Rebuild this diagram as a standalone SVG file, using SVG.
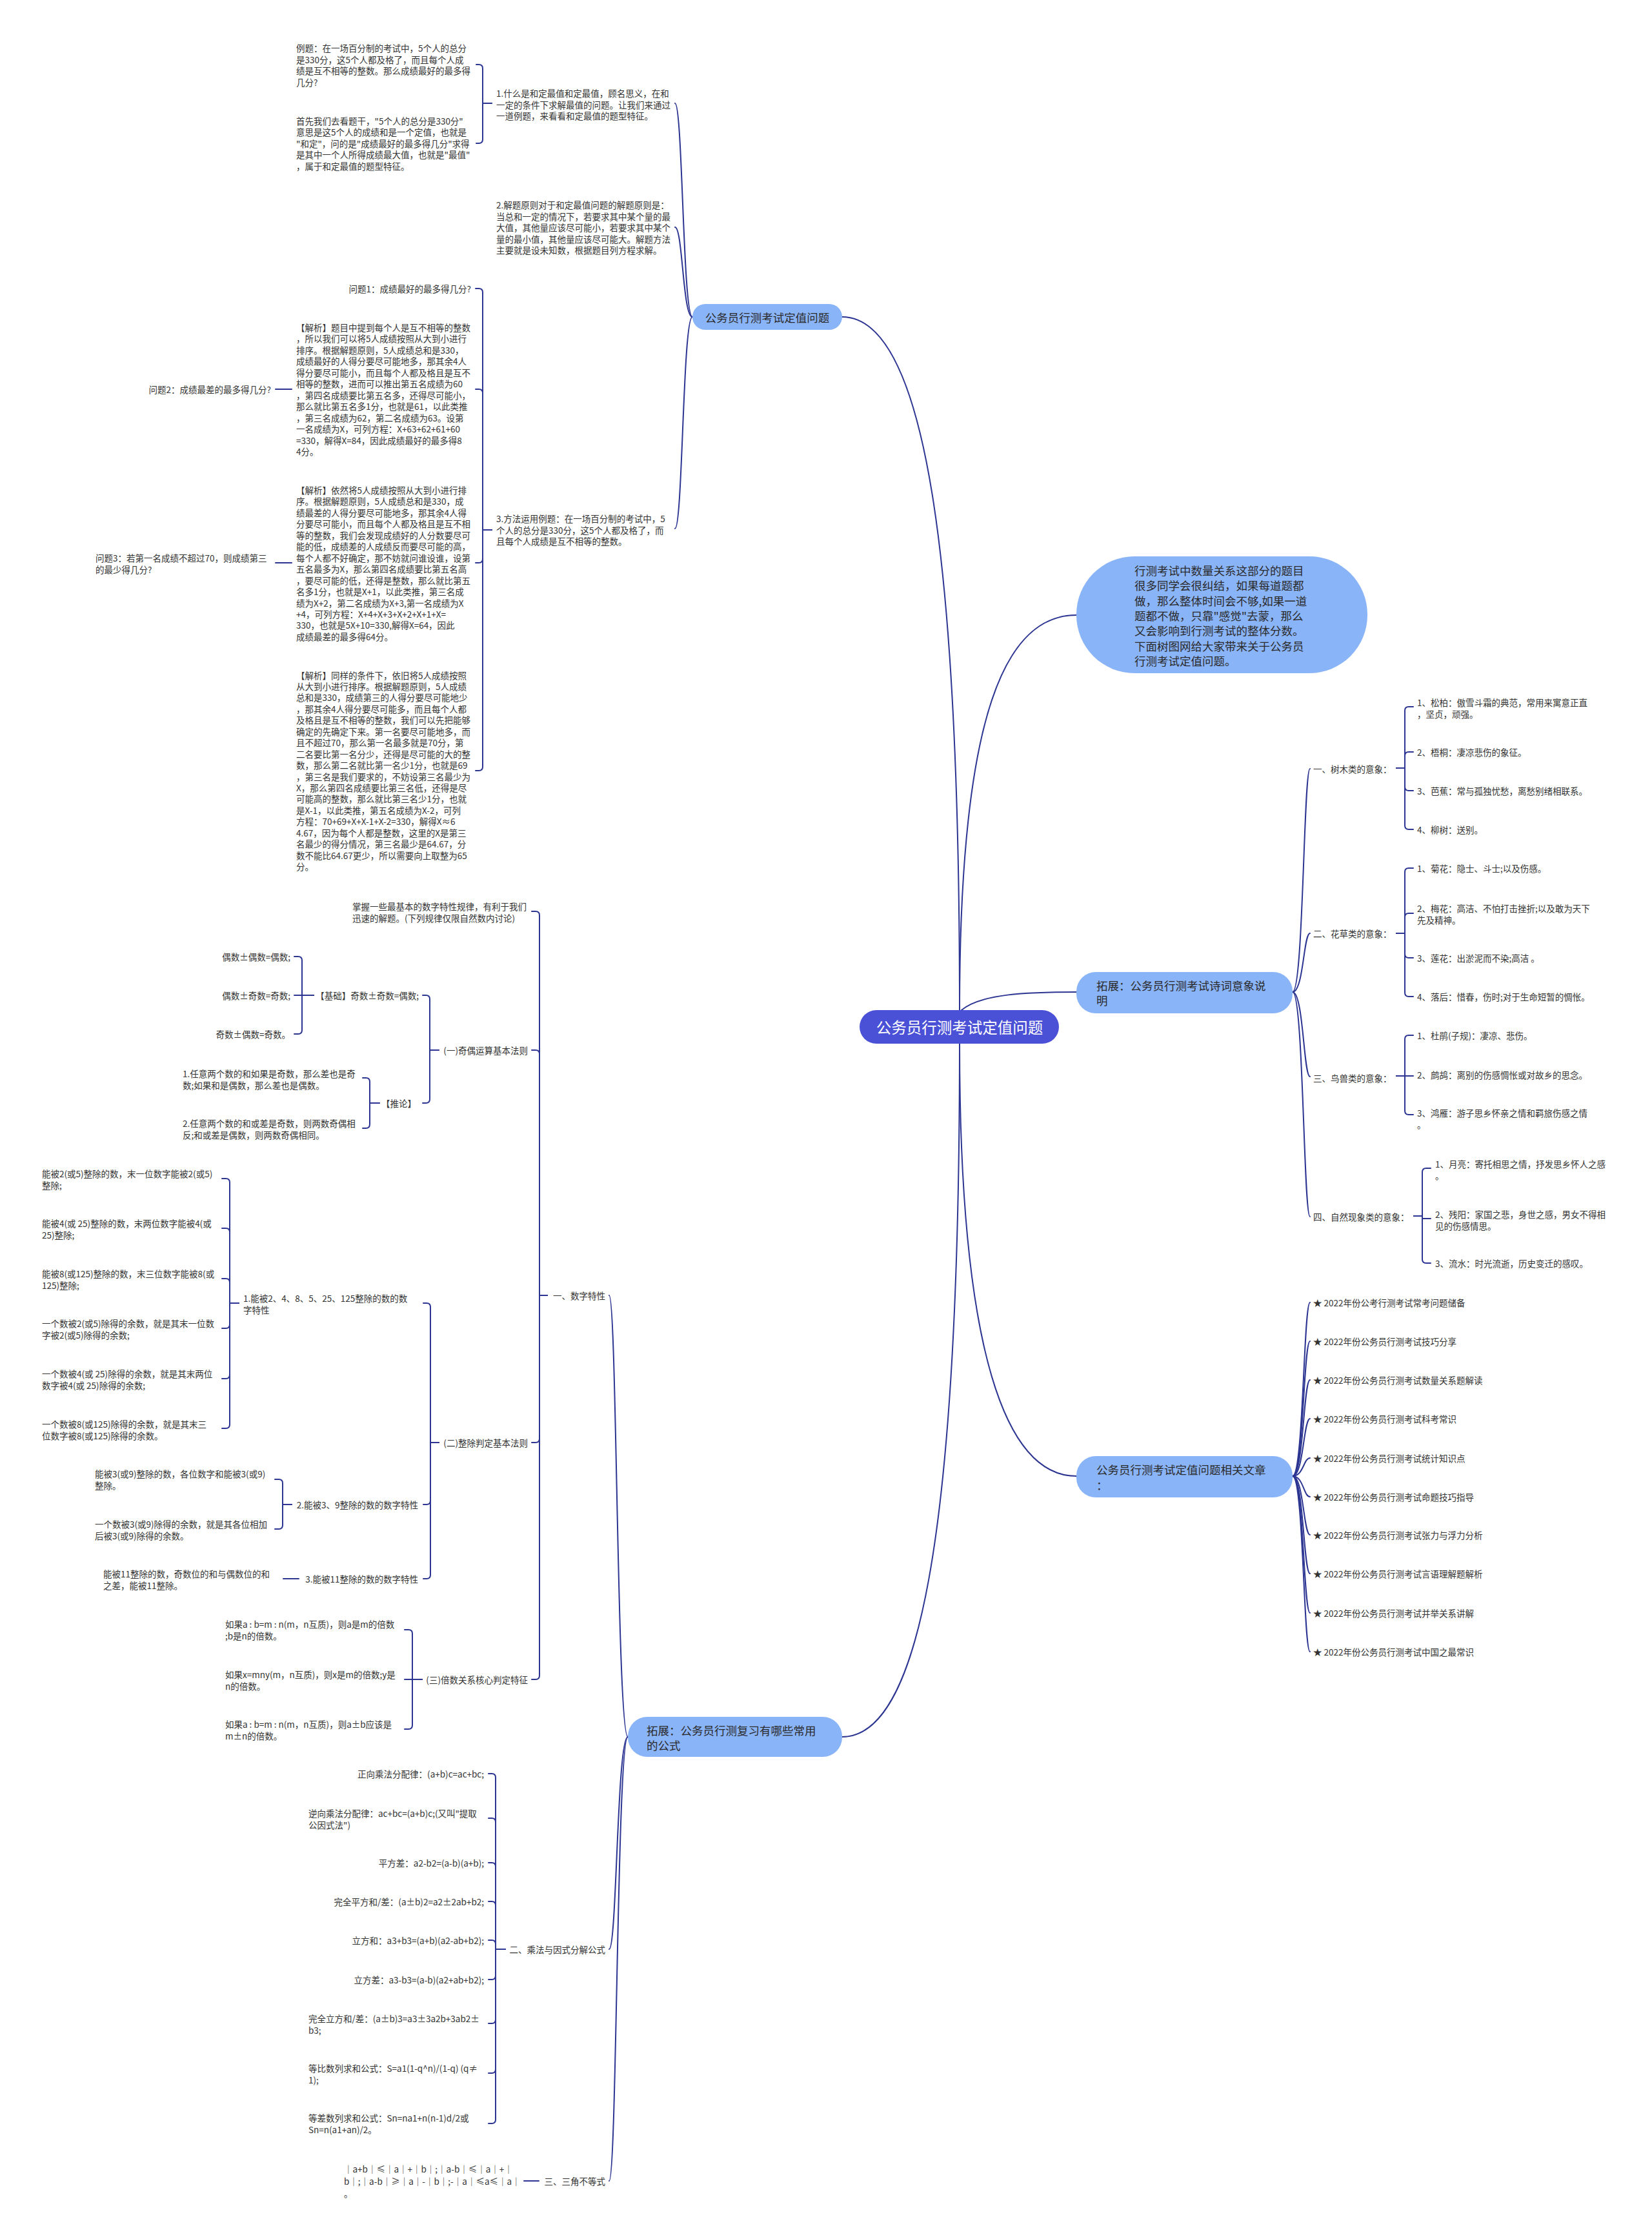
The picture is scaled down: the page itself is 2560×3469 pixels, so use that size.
<svg xmlns="http://www.w3.org/2000/svg" width="2560" height="3469" viewBox="0 0 2560 3469">
<style>
text,tspan{font-family:"Noto Sans CJK SC","Noto Sans",sans-serif;dominant-baseline:central}
text{font-size:13.5px;fill:#333}
.e{text-anchor:end}
.m{font-size:17.5px;fill:#2a2a2a}
.ctr{font-size:23.5px;fill:#fff;text-anchor:middle}
.nb{fill:#8ab4f8}
.k{fill:none;stroke:#2c3592;stroke-width:2;stroke-linecap:round;stroke-linejoin:round}
</style>
<rect width="2560" height="3469" fill="#fff"/>
<g id="connectors" class="k">
<path d="M1487 1565 C1487 900 1440 491 1305 491"/>
<path d="M1487 1565 C1487 1100 1560 953 1668 953"/>
<path d="M1490 1565 C1520 1540 1590 1537 1668 1537"/>
<path d="M1487 1617 C1487 2100 1560 2287 1668 2287"/>
<path d="M1487 1617 C1487 2400 1420 2691 1305 2691"/>
<path d="M1073 491 C1058 491 1058 160 1046 160"/>
<path d="M1073 491 C1058 491 1058 352 1046 352"/>
<path d="M1073 491 C1058 491 1058 819 1046 819"/>
<path d="M762 160 H748 V106 Q748 100 742 100 H738"/>
<path d="M762 160 H748 V216 Q748 222 742 222 H738"/>
<path d="M762 821 H748 V453 Q748 447 742 447 H737"/>
<path d="M762 821 H748 V609 Q748 603 742 603 H737"/>
<path d="M762 821 H748 V866 Q748 872 742 872 H737"/>
<path d="M762 821 H748 V1188 Q748 1194 742 1194 H737"/>
<path d="M452 603 H427"/>
<path d="M452 872 H427"/>
<path d="M973 2691 C956 2691 956 2007 944 2007"/>
<path d="M973 2691 C956 2691 956 3020 944 3020"/>
<path d="M973 2691 C956 2691 956 3379 944 3379"/>
<path d="M848 2007 H836 V1418 Q836 1412 830 1412 H824"/>
<path d="M848 2007 H836 V1633 Q836 1627 830 1627 H824"/>
<path d="M848 2007 H836 V2229 Q836 2235 830 2235 H824"/>
<path d="M848 2007 H836 V2596 Q836 2602 830 2602 H824"/>
<path d="M680 1627 H666 V1548 Q666 1542 660 1542 H655"/>
<path d="M680 1627 H666 V1703 Q666 1709 660 1709 H655"/>
<path d="M486 1542 H468 V1488 Q468 1482 462 1482 H456"/>
<path d="M486 1542 H456"/>
<path d="M486 1542 H468 V1596 Q468 1602 462 1602 H456"/>
<path d="M588 1709 H573 V1676 Q573 1670 567 1670 H562"/>
<path d="M588 1709 H573 V1742 Q573 1748 567 1748 H562"/>
<path d="M680 2235 H667 V2025 Q667 2019 661 2019 H656"/>
<path d="M680 2235 H667 V2325 Q667 2331 661 2331 H656"/>
<path d="M680 2235 H667 V2440 Q667 2446 661 2446 H656"/>
<path d="M370 2019 H356 V1832 Q356 1826 350 1826 H344"/>
<path d="M370 2019 H356 V1909 Q356 1903 350 1903 H344"/>
<path d="M370 2019 H356 V1987 Q356 1981 350 1981 H344"/>
<path d="M370 2019 H356 V2052 Q356 2058 350 2058 H344"/>
<path d="M370 2019 H356 V2130 Q356 2136 350 2136 H344"/>
<path d="M370 2019 H356 V2207 Q356 2213 350 2213 H344"/>
<path d="M452 2331 H438 V2298 Q438 2292 432 2292 H426"/>
<path d="M452 2331 H438 V2363 Q438 2369 432 2369 H426"/>
<path d="M463 2446 H439"/>
<path d="M654 2602 H639 V2531 Q639 2525 633 2525 H627"/>
<path d="M654 2602 H627"/>
<path d="M654 2602 H639 V2673 Q639 2679 633 2679 H627"/>
<path d="M783 3020 H768 V2754 Q768 2748 762 2748 H757"/>
<path d="M783 3020 H768 V2823 Q768 2817 762 2817 H757"/>
<path d="M783 3020 H768 V2892 Q768 2886 762 2886 H757"/>
<path d="M783 3020 H768 V2952 Q768 2946 762 2946 H757"/>
<path d="M783 3020 H768 V3012 Q768 3006 762 3006 H757"/>
<path d="M783 3020 H768 V3061 Q768 3067 762 3067 H757"/>
<path d="M783 3020 H768 V3129 Q768 3135 762 3135 H757"/>
<path d="M783 3020 H768 V3206 Q768 3212 762 3212 H757"/>
<path d="M783 3020 H768 V3284 Q768 3290 762 3290 H757"/>
<path d="M835 3379 H812"/>
<path d="M2003 1537 C2020 1537 2020 1191 2030 1191"/>
<path d="M2003 1537 C2020 1537 2020 1446 2030 1446"/>
<path d="M2003 1537 C2020 1537 2020 1668 2030 1668"/>
<path d="M2003 1537 C2020 1537 2020 1885 2030 1885"/>
<path d="M2164 1190 H2177 V1101 Q2177 1095 2183 1095 H2190"/>
<path d="M2164 1190 H2177 V1171 Q2177 1165 2183 1165 H2190"/>
<path d="M2164 1190 H2177 V1219 Q2177 1225 2183 1225 H2190"/>
<path d="M2164 1190 H2177 V1279 Q2177 1285 2183 1285 H2190"/>
<path d="M2164 1446 H2177 V1351 Q2177 1345 2183 1345 H2190"/>
<path d="M2164 1446 H2177 V1421 Q2177 1415 2183 1415 H2190"/>
<path d="M2164 1446 H2177 V1478 Q2177 1484 2183 1484 H2190"/>
<path d="M2164 1446 H2177 V1538 Q2177 1544 2183 1544 H2190"/>
<path d="M2164 1667 H2177 V1610 Q2177 1604 2183 1604 H2190"/>
<path d="M2164 1667 H2190"/>
<path d="M2164 1667 H2177 V1721 Q2177 1727 2183 1727 H2190"/>
<path d="M2191 1884 H2204 V1816 Q2204 1810 2210 1810 H2217"/>
<path d="M2191 1884 H2204 V1888 H2217"/>
<path d="M2191 1884 H2204 V1951 Q2204 1957 2210 1957 H2217"/>
<path d="M2003 2287 C2020 2287 2020 2018 2030 2018"/>
<path d="M2003 2287 C2020 2287 2020 2078 2030 2078"/>
<path d="M2003 2287 C2020 2287 2020 2138 2030 2138"/>
<path d="M2003 2287 C2020 2287 2020 2198 2030 2198"/>
<path d="M2003 2287 C2020 2287 2020 2259 2030 2259"/>
<path d="M2003 2287 C2020 2287 2020 2319 2030 2319"/>
<path d="M2003 2287 C2020 2287 2020 2378 2030 2378"/>
<path d="M2003 2287 C2020 2287 2020 2438 2030 2438"/>
<path d="M2003 2287 C2020 2287 2020 2499 2030 2499"/>
<path d="M2003 2287 C2020 2287 2020 2559 2030 2559"/>
</g>

<g id="center">
<rect x="1332" y="1565" width="309" height="52" rx="26" fill="#4b51d6"/>
<text class="ctr" x="1487" y="1591">公务员行测考试定值问题</text>
</g>

<g id="p1">
<rect class="nb" x="1073" y="471" width="232" height="40" rx="20"/>
<text class="m" x="1189" y="491" text-anchor="middle">公务员行测考试定值问题</text>
</g>
<g id="p1-c1"><text x="769" y="144"><tspan x="769" y="144">1.什么是和定最值和定最值，顾名思义，在和</tspan><tspan x="769" dy="17.5">一定的条件下求解最值的问题。让我们来通过</tspan><tspan x="769" dy="17.5">一道例题，来看看和定最值的题型特征。</tspan></text></g>
<g id="p1-c1a"><text><tspan x="459" y="74">例题：在一场百分制的考试中，5个人的总分</tspan><tspan x="459" dy="17.6">是330分，这5个人都及格了，而且每个人成</tspan><tspan x="459" dy="17.6">绩是互不相等的整数。那么成绩最好的最多得</tspan><tspan x="459" dy="17.6">几分?</tspan></text></g>
<g id="p1-c1b"><text><tspan x="459" y="186.5">首先我们去看题干，"5个人的总分是330分"</tspan><tspan x="459" dy="17.5">意思是这5个人的成绩和是一个定值，也就是</tspan><tspan x="459" dy="17.5">"和定"，问的是"成绩最好的最多得几分"求得</tspan><tspan x="459" dy="17.5">是其中一个人所得成绩最大值，也就是"最值"</tspan><tspan x="459" dy="17.5">，属于和定最值的题型特征。</tspan></text></g>
<g id="p1-c2"><text><tspan x="769" y="317">2.解题原则对于和定最值问题的解题原则是：</tspan><tspan x="769" dy="17.5">当总和一定的情况下，若要求其中某个量的最</tspan><tspan x="769" dy="17.5">大值，其他量应该尽可能小，若要求其中某个</tspan><tspan x="769" dy="17.5">量的最小值，其他量应该尽可能大。解题方法</tspan><tspan x="769" dy="17.5">主要就是设未知数，根据题目列方程求解。</tspan></text></g>
<g id="p1-c3"><text><tspan x="769" y="803">3.方法运用例题：在一场百分制的考试中，5</tspan><tspan x="769" dy="17.5">个人的总分是330分，这5个人都及格了，而</tspan><tspan x="769" dy="17.5">且每个人成绩是互不相等的整数。</tspan></text></g>
<g id="q1"><text class="e" x="730" y="447">问题1：成绩最好的最多得几分?</text></g>
<g id="a1"><text><tspan x="459" y="507">【解析】题目中提到每个人是互不相等的整数</tspan><tspan x="459" dy="17.45">，所以我们可以将5人成绩按照从大到小进行</tspan><tspan x="459" dy="17.45">排序。根据解题原则，5人成绩总和是330，</tspan><tspan x="459" dy="17.45">成绩最好的人得分要尽可能地多，那其余4人</tspan><tspan x="459" dy="17.45">得分要尽可能小，而且每个人都及格且是互不</tspan><tspan x="459" dy="17.45">相等的整数，进而可以推出第五名成绩为60</tspan><tspan x="459" dy="17.45">，第四名成绩要比第五名多，还得尽可能小，</tspan><tspan x="459" dy="17.45">那么就比第五名多1分，也就是61，以此类推</tspan><tspan x="459" dy="17.45">，第三名成绩为62，第二名成绩为63。设第</tspan><tspan x="459" dy="17.45">一名成绩为X，可列方程：X+63+62+61+60</tspan><tspan x="459" dy="17.45">=330，解得X=84，因此成绩最好的最多得8</tspan><tspan x="459" dy="17.45">4分。</tspan></text></g>
<g id="q2"><text class="e" x="420" y="603">问题2：成绩最差的最多得几分?</text></g>
<g id="a2"><text><tspan x="459" y="759">【解析】依然将5人成绩按照从大到小进行排</tspan><tspan x="459" dy="17.45">序。根据解题原则，5人成绩总和是330，成</tspan><tspan x="459" dy="17.45">绩最差的人得分要尽可能地多，那其余4人得</tspan><tspan x="459" dy="17.45">分要尽可能小，而且每个人都及格且是互不相</tspan><tspan x="459" dy="17.45">等的整数，我们会发现成绩好的人分数要尽可</tspan><tspan x="459" dy="17.45">能的低，成绩差的人成绩反而要尽可能的高，</tspan><tspan x="459" dy="17.45">每个人都不好确定，那不妨就问谁设谁，设第</tspan><tspan x="459" dy="17.45">五名最多为X，那么第四名成绩要比第五名高</tspan><tspan x="459" dy="17.45">，要尽可能的低，还得是整数，那么就比第五</tspan><tspan x="459" dy="17.45">名多1分，也就是X+1，以此类推，第三名成</tspan><tspan x="459" dy="17.45">绩为X+2，第二名成绩为X+3,第一名成绩为X</tspan><tspan x="459" dy="17.45">+4，可列方程：X+4+X+3+X+2+X+1+X=</tspan><tspan x="459" dy="17.45">330，也就是5X+10=330,解得X=64，因此</tspan><tspan x="459" dy="17.45">成绩最差的最多得64分。</tspan></text></g>
<g id="q3"><text><tspan x="148" y="864">问题3：若第一名成绩不超过70，则成绩第三</tspan><tspan x="148" dy="17.5">的最少得几分?</tspan></text></g>
<g id="a3"><text><tspan x="459" y="1045.5">【解析】同样的条件下，依旧将5人成绩按照</tspan><tspan x="459" dy="17.45">从大到小进行排序。根据解题原则，5人成绩</tspan><tspan x="459" dy="17.45">总和是330，成绩第三的人得分要尽可能地少</tspan><tspan x="459" dy="17.45">，那其余4人得分要尽可能多，而且每个人都</tspan><tspan x="459" dy="17.45">及格且是互不相等的整数，我们可以先把能够</tspan><tspan x="459" dy="17.45">确定的先确定下来。第一名要尽可能地多，而</tspan><tspan x="459" dy="17.45">且不超过70，那么第一名最多就是70分，第</tspan><tspan x="459" dy="17.45">二名要比第一名分少，还得是尽可能的大的整</tspan><tspan x="459" dy="17.45">数，那么第二名就比第一名少1分，也就是69</tspan><tspan x="459" dy="17.45">，第三名是我们要求的，不妨设第三名最少为</tspan><tspan x="459" dy="17.45">X，那么第四名成绩要比第三名低，还得是尽</tspan><tspan x="459" dy="17.45">可能高的整数，那么就比第三名少1分，也就</tspan><tspan x="459" dy="17.45">是X-1，以此类推，第五名成绩为X-2，可列</tspan><tspan x="459" dy="17.45">方程：70+69+X+X-1+X-2=330，解得X≈6</tspan><tspan x="459" dy="17.45">4.67，因为每个人都是整数，这里的X是第三</tspan><tspan x="459" dy="17.45">名最少的得分情况，第三名最少是64.67，分</tspan><tspan x="459" dy="17.45">数不能比64.67更少，所以需要向上取整为65</tspan><tspan x="459" dy="17.45">分。</tspan></text></g>

<g id="intro">
<rect class="nb" x="1668" y="862" width="451" height="181" rx="90"/>
<text class="m"><tspan x="1758" y="883">行测考试中数量关系这部分的题目</tspan><tspan x="1758" dy="23.3">很多同学会很纠结，如果每道题都</tspan><tspan x="1758" dy="23.3">做，那么整体时间会不够,如果一道</tspan><tspan x="1758" dy="23.3">题都不做，只靠"感觉"去蒙，那么</tspan><tspan x="1758" dy="23.3">又会影响到行测考试的整体分数。</tspan><tspan x="1758" dy="23.3">下面树图网给大家带来关于公务员</tspan><tspan x="1758" dy="23.3">行测考试定值问题。</tspan></text>
</g>

<g id="poem">
<rect class="nb" x="1668" y="1506" width="335" height="64" rx="30"/>
<text class="m"><tspan x="1699" y="1526">拓展：公务员行测考试诗词意象说</tspan><tspan x="1699" dy="23">明</tspan></text>
</g>
<g id="poem-1"><text x="2035" y="1191">一、树木类的意象：</text></g>
<g id="poem-1-1"><text><tspan x="2196" y="1088">1、松柏：傲雪斗霜的典范，常用来寓意正直</tspan><tspan x="2196" dy="17.5">，坚贞，顽强。</tspan></text></g>
<g id="poem-1-2"><text x="2196" y="1165">2、梧桐：凄凉悲伤的象征。</text></g>
<g id="poem-1-3"><text x="2196" y="1225">3、芭蕉：常与孤独忧愁，离愁别绪相联系。</text></g>
<g id="poem-1-4"><text x="2196" y="1285">4、柳树：送别。</text></g>
<g id="poem-2"><text x="2035" y="1446">二、花草类的意象：</text></g>
<g id="poem-2-1"><text x="2196" y="1345">1、菊花：隐士、斗士;以及伤感。</text></g>
<g id="poem-2-2"><text><tspan x="2196" y="1407">2、梅花：高洁、不怕打击挫折;以及敢为天下</tspan><tspan x="2196" dy="17.5">先及精神。</tspan></text></g>
<g id="poem-2-3"><text x="2196" y="1484">3、莲花：出淤泥而不染;高洁 。</text></g>
<g id="poem-2-4"><text x="2196" y="1544">4、落后：惜春，伤时;对于生命短暂的惆怅。</text></g>
<g id="poem-3"><text x="2035" y="1670">三、鸟兽类的意象：</text></g>
<g id="poem-3-1"><text x="2196" y="1604">1、杜鹃(子规)：凄凉、悲伤。</text></g>
<g id="poem-3-2"><text x="2196" y="1665">2、鹧鸪：离别的伤感惆怅或对故乡的思念。</text></g>
<g id="poem-3-3"><text><tspan x="2196" y="1724">3、鸿雁：游子思乡怀亲之情和羁旅伤感之情</tspan><tspan x="2196" dy="17.5">。</tspan></text></g>
<g id="poem-4"><text x="2035" y="1885">四、自然现象类的意象：</text></g>
<g id="poem-4-1"><text><tspan x="2224" y="1803">1、月亮：寄托相思之情，抒发思乡怀人之感</tspan><tspan x="2224" dy="17.5">。</tspan></text></g>
<g id="poem-4-2"><text><tspan x="2224" y="1881">2、残阳：家国之悲，身世之感，男女不得相</tspan><tspan x="2224" dy="17.5">见的伤感情思。</tspan></text></g>
<g id="poem-4-3"><text x="2224" y="1957">3、流水：时光流逝，历史变迁的感叹。</text></g>

<g id="articles">
<rect class="nb" x="1668" y="2256" width="335" height="64" rx="30"/>
<text class="m"><tspan x="1699" y="2276">公务员行测考试定值问题相关文章</tspan><tspan x="1699" dy="24">：</tspan></text>
</g>
<g id="art-1"><text x="2035" y="2018">★ 2022年份公考行测考试常考问题储备</text></g>
<g id="art-2"><text x="2035" y="2078">★ 2022年份公务员行测考试技巧分享</text></g>
<g id="art-3"><text x="2035" y="2138">★ 2022年份公务员行测考试数量关系题解读</text></g>
<g id="art-4"><text x="2035" y="2198">★ 2022年份公务员行测考试科考常识</text></g>
<g id="art-5"><text x="2035" y="2259">★ 2022年份公务员行测考试统计知识点</text></g>
<g id="art-6"><text x="2035" y="2319">★ 2022年份公务员行测考试命题技巧指导</text></g>
<g id="art-7"><text x="2035" y="2378">★ 2022年份公务员行测考试张力与浮力分析</text></g>
<g id="art-8"><text x="2035" y="2438">★ 2022年份公务员行测考试言语理解题解析</text></g>
<g id="art-9"><text x="2035" y="2499">★ 2022年份公务员行测考试并举关系讲解</text></g>
<g id="art-10"><text x="2035" y="2559">★ 2022年份公务员行测考试中国之最常识</text></g>

<g id="formulas">
<rect class="nb" x="973" y="2660" width="332" height="62" rx="30"/>
<text class="m"><tspan x="1002" y="2680">拓展：公务员行测复习有哪些常用</tspan><tspan x="1002" dy="23">的公式</tspan></text>
</g>
<g id="f1"><text class="e" x="938" y="2007">一、数字特性</text></g>
<g id="f1-0"><text><tspan x="546" y="1404">掌握一些最基本的数字特性规律，有利于我们</tspan><tspan x="546" dy="17.5">迅速的解题。(下列规律仅限自然数内讨论)</tspan></text></g>
<g id="f1-1"><text class="e" x="818" y="1627">(一)奇偶运算基本法则</text></g>
<g id="f1-1a"><text class="e" x="649" y="1542">【基础】奇数±奇数=偶数;</text></g>
<g id="f1-1a1"><text class="e" x="450" y="1482">偶数±偶数=偶数;</text></g>
<g id="f1-1a2"><text class="e" x="450" y="1542">偶数±奇数=奇数;</text></g>
<g id="f1-1a3"><text class="e" x="450" y="1602">奇数±偶数=奇数。</text></g>
<g id="f1-1b"><text class="e" x="645" y="1709">【推论】</text></g>
<g id="f1-1b1"><text><tspan x="283" y="1663">1.任意两个数的和如果是奇数，那么差也是奇</tspan><tspan x="283" dy="17.5">数;如果和是偶数，那么差也是偶数。</tspan></text></g>
<g id="f1-1b2"><text><tspan x="283" y="1740">2.任意两个数的和或差是奇数，则两数奇偶相</tspan><tspan x="283" dy="17.5">反;和或差是偶数，则两数奇偶相同。</tspan></text></g>
<g id="f1-2"><text class="e" x="818" y="2235">(二)整除判定基本法则</text></g>
<g id="f1-2a"><text><tspan x="377" y="2011">1.能被2、4、8、5、25、125整除的数的数</tspan><tspan x="377" dy="17.5">字特性</tspan></text></g>
<g id="f1-2a1"><text><tspan x="65" y="1818">能被2(或5)整除的数，末一位数字能被2(或5)</tspan><tspan x="65" dy="17.5">整除;</tspan></text></g>
<g id="f1-2a2"><text><tspan x="65" y="1895">能被4(或 25)整除的数，末两位数字能被4(或</tspan><tspan x="65" dy="17.5">25)整除;</tspan></text></g>
<g id="f1-2a3"><text><tspan x="65" y="1973">能被8(或125)整除的数，末三位数字能被8(或</tspan><tspan x="65" dy="17.5">125)整除;</tspan></text></g>
<g id="f1-2a4"><text><tspan x="65" y="2050">一个数被2(或5)除得的余数，就是其末一位数</tspan><tspan x="65" dy="17.5">字被2(或5)除得的余数;</tspan></text></g>
<g id="f1-2a5"><text><tspan x="65" y="2128">一个数被4(或 25)除得的余数，就是其末两位</tspan><tspan x="65" dy="17.5">数字被4(或 25)除得的余数;</tspan></text></g>
<g id="f1-2a6"><text><tspan x="65" y="2206">一个数被8(或125)除得的余数，就是其末三</tspan><tspan x="65" dy="17.5">位数字被8(或125)除得的余数。</tspan></text></g>
<g id="f1-2b"><text class="e" x="648" y="2331">2.能被3、9整除的数的数字特性</text></g>
<g id="f1-2b1"><text><tspan x="147" y="2283">能被3(或9)整除的数，各位数字和能被3(或9)</tspan><tspan x="147" dy="17.5">整除。</tspan></text></g>
<g id="f1-2b2"><text><tspan x="147" y="2361">一个数被3(或9)除得的余数，就是其各位相加</tspan><tspan x="147" dy="17.5">后被3(或9)除得的余数。</tspan></text></g>
<g id="f1-2c"><text class="e" x="648" y="2446">3.能被11整除的数的数字特性</text></g>
<g id="f1-2c1"><text><tspan x="160" y="2438">能被11整除的数，奇数位的和与偶数位的和</tspan><tspan x="160" dy="17.5">之差，能被11整除。</tspan></text></g>
<g id="f1-3"><text class="e" x="818" y="2602">(三)倍数关系核心判定特征</text></g>
<g id="f1-3a"><text><tspan x="349" y="2516">如果a : b=m : n(m，n互质)，则a是m的倍数</tspan><tspan x="349" dy="17.5">;b是n的倍数。</tspan></text></g>
<g id="f1-3b"><text><tspan x="349" y="2594">如果x=mny(m，n互质)，则x是m的倍数;y是</tspan><tspan x="349" dy="17.5">n的倍数。</tspan></text></g>
<g id="f1-3c"><text><tspan x="349" y="2671">如果a : b=m : n(m，n互质)，则a±b应该是</tspan><tspan x="349" dy="17.5">m±n的倍数。</tspan></text></g>
<g id="f2"><text class="e" x="938" y="3020">二、乘法与因式分解公式</text></g>
<g id="f2-1"><text class="e" x="750" y="2748">正向乘法分配律：(a+b)c=ac+bc;</text></g>
<g id="f2-2"><text><tspan x="478" y="2809">逆向乘法分配律：ac+bc=(a+b)c;(又叫"提取</tspan><tspan x="478" dy="17.5">公因式法")</tspan></text></g>
<g id="f2-3"><text class="e" x="750" y="2886">平方差：a2-b2=(a-b)(a+b);</text></g>
<g id="f2-4"><text class="e" x="750" y="2946">完全平方和/差：(a±b)2=a2±2ab+b2;</text></g>
<g id="f2-5"><text class="e" x="750" y="3006">立方和：a3+b3=(a+b)(a2-ab+b2);</text></g>
<g id="f2-6"><text class="e" x="750" y="3067">立方差：a3-b3=(a-b)(a2+ab+b2);</text></g>
<g id="f2-7"><text><tspan x="478" y="3127">完全立方和/差：(a±b)3=a3±3a2b+3ab2±</tspan><tspan x="478" dy="17.5">b3;</tspan></text></g>
<g id="f2-8"><text><tspan x="478" y="3204">等比数列求和公式：S=a1(1-q^n)/(1-q) (q≠</tspan><tspan x="478" dy="17.5">1);</tspan></text></g>
<g id="f2-9"><text><tspan x="478" y="3281">等差数列求和公式：Sn=na1+n(n-1)d/2或</tspan><tspan x="478" dy="18">Sn=n(a1+an)/2。</tspan></text></g>
<g id="f3"><text class="e" x="938" y="3379">三、三角不等式</text></g>
<g id="f3-1"><text><tspan x="533" y="3360">｜a+b｜≤｜a｜+｜b｜;｜a-b｜≤｜a｜+｜</tspan><tspan x="533" dy="19">b｜;｜a-b｜≥｜a｜-｜b｜;-｜a｜≤a≤｜a｜</tspan><tspan x="533" dy="19">。</tspan></text></g>
</svg>
